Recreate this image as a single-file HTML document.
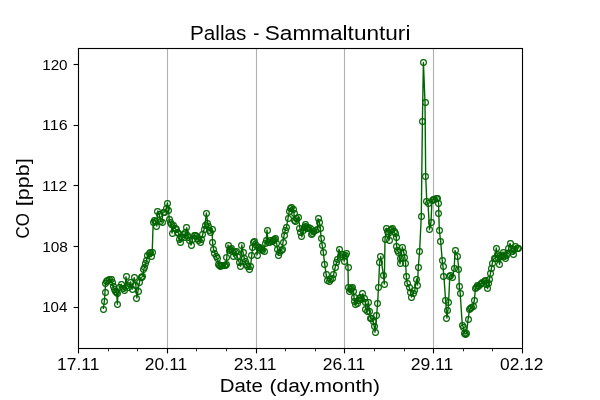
<!DOCTYPE html>
<html><head><meta charset="utf-8"><title>Pallas - Sammaltunturi</title><style>
html,body{margin:0;padding:0;background:#fff;width:600px;height:400px;overflow:hidden}
svg{display:block;will-change:transform}
text{font-family:"Liberation Sans",sans-serif;fill:#000}
</style></head><body>
<svg width="600" height="400" viewBox="0 0 600 400">
<rect width="600" height="400" fill="#fff"/>
<g stroke="#b0b0b0" stroke-width="1.11"><line x1="167.5" y1="48.5" x2="167.5" y2="348.5"/><line x1="256.5" y1="48.5" x2="256.5" y2="348.5"/><line x1="344.5" y1="48.5" x2="344.5" y2="348.5"/><line x1="433.5" y1="48.5" x2="433.5" y2="348.5"/></g>
<polyline fill="none" stroke="#006400" stroke-width="1.39" stroke-linejoin="round" points="103.2,309 104.4,301.2 105,292 105.6,283.3 106.65,281.9 107.7,280.5 109.5,279.3 111,279 112.15,282.9 113.3,286.8 114.7,289.8 115.65,291.15 116.6,292.5 117.4,304.3 117.9,293.5 119.4,287.6 121.2,284.2 123,288.5 124.8,290.8 126,276.8 127.1,285.5 128.9,287.3 130.6,282 132.4,289 134.2,277.7 135.9,285.5 136.9,298 138,291 139.5,282 141,277.5 141.95,277 142.9,276.5 143.8,269 144.8,267 145.6,263.5 146.5,260.5 147.6,255 149,253.5 150.3,252.3 151.5,256.5 152.2,252 153.2,222 154.3,220 155.5,221.5 156.8,226 157.8,211 159.3,214.5 160.5,221.5 162,222 163,212 164.6,212 166.2,208.5 167.4,203 168.6,210 169.2,219.5 170.2,222.5 171.3,224 172,233 173.5,225 175,228.5 176.2,229.5 177.5,232 178.5,233 179.3,239 180.2,242 181.5,237 183,234.5 184.5,237.5 185.6,232.6 186.7,227.7 187.8,235 188.75,237.75 189.7,240.5 191,245 192.7,239 194.5,235 195.5,235.75 196.5,236.5 197.5,238.25 198.5,240 200,242 201.5,239 202.8,234 204,229.5 205,225 206.4,213 207.7,223 208.6,226.5 209.8,230 210.8,232 212,229 212.6,242.5 213.6,249.4 214.9,253.1 216.1,256.2 217.4,258.8 218.6,264.4 219.55,265.3 220.5,266.2 221.45,265.9 222.4,265.6 224.2,265.6 225.15,265 226.1,264.4 226.8,257.5 228,245 229.2,250 230.15,249.4 231.1,248.8 232.4,251.9 233.6,256.2 235,252 236.1,251.2 237.4,256.9 239.2,262.5 240.5,266.2 241.8,245 243,252.5 244.2,258.1 245.2,261 246,264 247.4,266.9 249.2,269.4 250.5,266.5 251.8,255 252.6,247 253.3,242 254.9,241.2 256.5,245 257,255 258,247.5 259.25,247.8 260.5,248.1 261.45,249.35 262.4,250.6 264.2,251.2 265.2,243 266.2,240.5 267,230 268,242 269.3,242.5 270.8,240.5 272.2,241.5 273.5,240.5 274.5,239.25 275.5,238 276.6,243 277.5,249 278.5,255 279.8,252 281,250.5 282,249 283,242.25 284,235.5 285.3,230 286.4,227.4 288,218.5 289.3,211 290.5,208 291.9,207.4 293.2,209.5 294,213.5 294.6,220 295.8,221.8 296.9,218.5 298.6,217.4 299.9,228.5 300.9,232.65 301.9,236.8 303.1,230.5 304.05,227.7 305,224.9 305.95,226.75 306.9,228.6 307.85,228 308.8,227.4 310.6,228 311.9,234.2 312.85,233 313.8,231.8 315.6,230.5 317.2,229.2 318.1,218.6 319.4,222.5 320.4,228 321,238 322.3,245.8 323.3,252.2 324.7,264.2 326.2,274.8 327.6,280 329,281.5 330.5,279 332,278 333.6,274.8 335.2,267.2 336.6,262.8 337.6,259 339,249.2 340.5,256 341.8,254.8 342.9,254.5 344.2,261.2 345.3,255 346.5,253.8 348,267.2 348.3,287.5 349.2,291.9 350.3,289 351.5,288 352.7,287.5 353.5,291 354,297 354.8,301.5 355.8,304.5 357,303 358.2,300 359.3,298 360.5,297 361.5,299.5 362.8,293.6 364,298.5 365.2,302 365.8,309.5 367,311 368.5,302 369.6,311.5 370.6,318.5 371.8,318 373,321 374.1,326 375,332.2 376.6,315.5 377.6,303.3 378.5,287.5 379.6,262.8 380.7,256.5 383.4,275 384.3,284 385,239.4 386.3,228.1 387.5,231 388.3,233 389.2,240 390.4,230 391.6,229 392.6,228.8 394,231.9 395.4,233.8 396.3,237.5 396.6,246 397.5,250.6 398.8,252.5 400,263.9 400.8,258.8 402.3,247 403.8,252.5 404.8,257.5 405.6,263 406.3,276 407.2,283.5 409.2,287.3 410.5,292 411.5,297 413,293.3 414.8,290 416.6,279 417.5,285 418.3,267 419.6,251.3 421.3,216.2 422.4,121.8 423.4,62.4 425,102.4 425.7,176.4 426.8,201.9 428,203.5 429.5,229.5 431,222 432,200 433.1,199.7 434.2,199.4 436,198.5 437,198.1 438.6,203.1 438.8,213.1 439.3,230 440.7,241.5 442.2,260 443,266.8 443.9,276.4 445.6,300.2 446.9,318 447.9,310.7 448.6,302.3 449.8,276 450.9,275.1 452.6,277.8 454.2,268.2 455,250.5 457.5,256 458.8,269.8 459.3,286.8 460.2,293.2 462.3,325 463.3,327 464.6,333.5 465.6,334 466.5,333.5 468.1,319.4 469.6,309.5 470.6,308 471.9,307.5 473,306.5 474.4,300 475.4,288.5 476.35,287.1 477.3,285.7 478.5,286 480.1,284.7 481.5,283.5 482.9,282.8 484.3,281 485.7,280 486.65,284.25 487.6,288.5 488.55,283.8 489.5,279.1 490.4,273.5 491.3,268.8 492.3,263.1 494.1,258.5 495,258 496.3,248 497.2,254.7 498.5,258 499.6,264.3 500.3,255 501.6,256.6 503,252 504.3,256 505.5,258.5 506.5,255 507.5,253 508.8,248 510,243.5 511,248 512.3,251 513.5,254 514.5,249 515.3,246 517,248 518.5,248.5"/>
<g fill="none" stroke="#006400" stroke-width="1.15"><circle cx="103.5" cy="309.5" r="2.9"/><circle cx="104.5" cy="301.5" r="2.9"/><circle cx="105.5" cy="292.5" r="2.9"/><circle cx="105.5" cy="283.5" r="2.9"/><circle cx="106.5" cy="281.5" r="2.9"/><circle cx="107.5" cy="280.5" r="2.9"/><circle cx="109.5" cy="279.5" r="2.9"/><circle cx="111.5" cy="279.5" r="2.9"/><circle cx="112.5" cy="282.5" r="2.9"/><circle cx="113.5" cy="286.5" r="2.9"/><circle cx="114.5" cy="289.5" r="2.9"/><circle cx="115.5" cy="291.5" r="2.9"/><circle cx="116.5" cy="292.5" r="2.9"/><circle cx="117.5" cy="304.5" r="2.9"/><circle cx="117.5" cy="293.5" r="2.9"/><circle cx="119.5" cy="287.5" r="2.9"/><circle cx="121.5" cy="284.5" r="2.9"/><circle cx="123.5" cy="288.5" r="2.9"/><circle cx="124.5" cy="290.5" r="2.9"/><circle cx="126.5" cy="276.5" r="2.9"/><circle cx="127.5" cy="285.5" r="2.9"/><circle cx="128.5" cy="287.5" r="2.9"/><circle cx="130.5" cy="282.5" r="2.9"/><circle cx="132.5" cy="289.5" r="2.9"/><circle cx="134.5" cy="277.5" r="2.9"/><circle cx="135.5" cy="285.5" r="2.9"/><circle cx="136.5" cy="298.5" r="2.9"/><circle cx="138.5" cy="291.5" r="2.9"/><circle cx="139.5" cy="282.5" r="2.9"/><circle cx="141.5" cy="277.5" r="2.9"/><circle cx="141.5" cy="277.5" r="2.9"/><circle cx="142.5" cy="276.5" r="2.9"/><circle cx="143.5" cy="269.5" r="2.9"/><circle cx="144.5" cy="267.5" r="2.9"/><circle cx="145.5" cy="263.5" r="2.9"/><circle cx="146.5" cy="260.5" r="2.9"/><circle cx="147.5" cy="255.5" r="2.9"/><circle cx="149.5" cy="253.5" r="2.9"/><circle cx="150.5" cy="252.5" r="2.9"/><circle cx="151.5" cy="256.5" r="2.9"/><circle cx="152.5" cy="252.5" r="2.9"/><circle cx="153.5" cy="222.5" r="2.9"/><circle cx="154.5" cy="220.5" r="2.9"/><circle cx="155.5" cy="221.5" r="2.9"/><circle cx="156.5" cy="226.5" r="2.9"/><circle cx="157.5" cy="211.5" r="2.9"/><circle cx="159.5" cy="214.5" r="2.9"/><circle cx="160.5" cy="221.5" r="2.9"/><circle cx="162.5" cy="222.5" r="2.9"/><circle cx="163.5" cy="212.5" r="2.9"/><circle cx="164.5" cy="212.5" r="2.9"/><circle cx="166.5" cy="208.5" r="2.9"/><circle cx="167.5" cy="203.5" r="2.9"/><circle cx="168.5" cy="210.5" r="2.9"/><circle cx="169.5" cy="219.5" r="2.9"/><circle cx="170.5" cy="222.5" r="2.9"/><circle cx="171.5" cy="224.5" r="2.9"/><circle cx="172.5" cy="233.5" r="2.9"/><circle cx="173.5" cy="225.5" r="2.9"/><circle cx="175.5" cy="228.5" r="2.9"/><circle cx="176.5" cy="229.5" r="2.9"/><circle cx="177.5" cy="232.5" r="2.9"/><circle cx="178.5" cy="233.5" r="2.9"/><circle cx="179.5" cy="239.5" r="2.9"/><circle cx="180.5" cy="242.5" r="2.9"/><circle cx="181.5" cy="237.5" r="2.9"/><circle cx="183.5" cy="234.5" r="2.9"/><circle cx="184.5" cy="237.5" r="2.9"/><circle cx="185.5" cy="232.5" r="2.9"/><circle cx="186.5" cy="227.5" r="2.9"/><circle cx="187.5" cy="235.5" r="2.9"/><circle cx="188.5" cy="237.5" r="2.9"/><circle cx="189.5" cy="240.5" r="2.9"/><circle cx="191.5" cy="245.5" r="2.9"/><circle cx="192.5" cy="239.5" r="2.9"/><circle cx="194.5" cy="235.5" r="2.9"/><circle cx="195.5" cy="235.5" r="2.9"/><circle cx="196.5" cy="236.5" r="2.9"/><circle cx="197.5" cy="238.5" r="2.9"/><circle cx="198.5" cy="240.5" r="2.9"/><circle cx="200.5" cy="242.5" r="2.9"/><circle cx="201.5" cy="239.5" r="2.9"/><circle cx="202.5" cy="234.5" r="2.9"/><circle cx="204.5" cy="229.5" r="2.9"/><circle cx="205.5" cy="225.5" r="2.9"/><circle cx="206.5" cy="213.5" r="2.9"/><circle cx="207.5" cy="223.5" r="2.9"/><circle cx="208.5" cy="226.5" r="2.9"/><circle cx="209.5" cy="230.5" r="2.9"/><circle cx="210.5" cy="232.5" r="2.9"/><circle cx="212.5" cy="229.5" r="2.9"/><circle cx="212.5" cy="242.5" r="2.9"/><circle cx="213.5" cy="249.5" r="2.9"/><circle cx="214.5" cy="253.5" r="2.9"/><circle cx="216.5" cy="256.5" r="2.9"/><circle cx="217.5" cy="258.5" r="2.9"/><circle cx="218.5" cy="264.5" r="2.9"/><circle cx="219.5" cy="265.5" r="2.9"/><circle cx="220.5" cy="266.5" r="2.9"/><circle cx="221.5" cy="265.5" r="2.9"/><circle cx="222.5" cy="265.5" r="2.9"/><circle cx="224.5" cy="265.5" r="2.9"/><circle cx="225.5" cy="265.5" r="2.9"/><circle cx="226.5" cy="264.5" r="2.9"/><circle cx="226.5" cy="257.5" r="2.9"/><circle cx="228.5" cy="245.5" r="2.9"/><circle cx="229.5" cy="250.5" r="2.9"/><circle cx="230.5" cy="249.5" r="2.9"/><circle cx="231.5" cy="248.5" r="2.9"/><circle cx="232.5" cy="251.5" r="2.9"/><circle cx="233.5" cy="256.5" r="2.9"/><circle cx="235.5" cy="252.5" r="2.9"/><circle cx="236.5" cy="251.5" r="2.9"/><circle cx="237.5" cy="256.5" r="2.9"/><circle cx="239.5" cy="262.5" r="2.9"/><circle cx="240.5" cy="266.5" r="2.9"/><circle cx="241.5" cy="245.5" r="2.9"/><circle cx="243.5" cy="252.5" r="2.9"/><circle cx="244.5" cy="258.5" r="2.9"/><circle cx="245.5" cy="261.5" r="2.9"/><circle cx="246.5" cy="264.5" r="2.9"/><circle cx="247.5" cy="266.5" r="2.9"/><circle cx="249.5" cy="269.5" r="2.9"/><circle cx="250.5" cy="266.5" r="2.9"/><circle cx="251.5" cy="255.5" r="2.9"/><circle cx="252.5" cy="247.5" r="2.9"/><circle cx="253.5" cy="242.5" r="2.9"/><circle cx="254.5" cy="241.5" r="2.9"/><circle cx="256.5" cy="245.5" r="2.9"/><circle cx="257.5" cy="255.5" r="2.9"/><circle cx="258.5" cy="247.5" r="2.9"/><circle cx="259.5" cy="247.5" r="2.9"/><circle cx="260.5" cy="248.5" r="2.9"/><circle cx="261.5" cy="249.5" r="2.9"/><circle cx="262.5" cy="250.5" r="2.9"/><circle cx="264.5" cy="251.5" r="2.9"/><circle cx="265.5" cy="243.5" r="2.9"/><circle cx="266.5" cy="240.5" r="2.9"/><circle cx="267.5" cy="230.5" r="2.9"/><circle cx="268.5" cy="242.5" r="2.9"/><circle cx="269.5" cy="242.5" r="2.9"/><circle cx="270.5" cy="240.5" r="2.9"/><circle cx="272.5" cy="241.5" r="2.9"/><circle cx="273.5" cy="240.5" r="2.9"/><circle cx="274.5" cy="239.5" r="2.9"/><circle cx="275.5" cy="238.5" r="2.9"/><circle cx="276.5" cy="243.5" r="2.9"/><circle cx="277.5" cy="249.5" r="2.9"/><circle cx="278.5" cy="255.5" r="2.9"/><circle cx="279.5" cy="252.5" r="2.9"/><circle cx="281.5" cy="250.5" r="2.9"/><circle cx="282.5" cy="249.5" r="2.9"/><circle cx="283.5" cy="242.5" r="2.9"/><circle cx="284.5" cy="235.5" r="2.9"/><circle cx="285.5" cy="230.5" r="2.9"/><circle cx="286.5" cy="227.5" r="2.9"/><circle cx="288.5" cy="218.5" r="2.9"/><circle cx="289.5" cy="211.5" r="2.9"/><circle cx="290.5" cy="208.5" r="2.9"/><circle cx="291.5" cy="207.5" r="2.9"/><circle cx="293.5" cy="209.5" r="2.9"/><circle cx="294.5" cy="213.5" r="2.9"/><circle cx="294.5" cy="220.5" r="2.9"/><circle cx="295.5" cy="221.5" r="2.9"/><circle cx="296.5" cy="218.5" r="2.9"/><circle cx="298.5" cy="217.5" r="2.9"/><circle cx="299.5" cy="228.5" r="2.9"/><circle cx="300.5" cy="232.5" r="2.9"/><circle cx="301.5" cy="236.5" r="2.9"/><circle cx="303.5" cy="230.5" r="2.9"/><circle cx="304.5" cy="227.5" r="2.9"/><circle cx="305.5" cy="224.5" r="2.9"/><circle cx="305.5" cy="226.5" r="2.9"/><circle cx="306.5" cy="228.5" r="2.9"/><circle cx="307.5" cy="228.5" r="2.9"/><circle cx="308.5" cy="227.5" r="2.9"/><circle cx="310.5" cy="228.5" r="2.9"/><circle cx="311.5" cy="234.5" r="2.9"/><circle cx="312.5" cy="233.5" r="2.9"/><circle cx="313.5" cy="231.5" r="2.9"/><circle cx="315.5" cy="230.5" r="2.9"/><circle cx="317.5" cy="229.5" r="2.9"/><circle cx="318.5" cy="218.5" r="2.9"/><circle cx="319.5" cy="222.5" r="2.9"/><circle cx="320.5" cy="228.5" r="2.9"/><circle cx="321.5" cy="238.5" r="2.9"/><circle cx="322.5" cy="245.5" r="2.9"/><circle cx="323.5" cy="252.5" r="2.9"/><circle cx="324.5" cy="264.5" r="2.9"/><circle cx="326.5" cy="274.5" r="2.9"/><circle cx="327.5" cy="280.5" r="2.9"/><circle cx="329.5" cy="281.5" r="2.9"/><circle cx="330.5" cy="279.5" r="2.9"/><circle cx="332.5" cy="278.5" r="2.9"/><circle cx="333.5" cy="274.5" r="2.9"/><circle cx="335.5" cy="267.5" r="2.9"/><circle cx="336.5" cy="262.5" r="2.9"/><circle cx="337.5" cy="259.5" r="2.9"/><circle cx="339.5" cy="249.5" r="2.9"/><circle cx="340.5" cy="256.5" r="2.9"/><circle cx="341.5" cy="254.5" r="2.9"/><circle cx="342.5" cy="254.5" r="2.9"/><circle cx="344.5" cy="261.5" r="2.9"/><circle cx="345.5" cy="255.5" r="2.9"/><circle cx="346.5" cy="253.5" r="2.9"/><circle cx="348.5" cy="267.5" r="2.9"/><circle cx="348.5" cy="287.5" r="2.9"/><circle cx="349.5" cy="291.5" r="2.9"/><circle cx="350.5" cy="289.5" r="2.9"/><circle cx="351.5" cy="288.5" r="2.9"/><circle cx="352.5" cy="287.5" r="2.9"/><circle cx="353.5" cy="291.5" r="2.9"/><circle cx="354.5" cy="297.5" r="2.9"/><circle cx="354.5" cy="301.5" r="2.9"/><circle cx="355.5" cy="304.5" r="2.9"/><circle cx="357.5" cy="303.5" r="2.9"/><circle cx="358.5" cy="300.5" r="2.9"/><circle cx="359.5" cy="298.5" r="2.9"/><circle cx="360.5" cy="297.5" r="2.9"/><circle cx="361.5" cy="299.5" r="2.9"/><circle cx="362.5" cy="293.5" r="2.9"/><circle cx="364.5" cy="298.5" r="2.9"/><circle cx="365.5" cy="302.5" r="2.9"/><circle cx="365.5" cy="309.5" r="2.9"/><circle cx="367.5" cy="311.5" r="2.9"/><circle cx="368.5" cy="302.5" r="2.9"/><circle cx="369.5" cy="311.5" r="2.9"/><circle cx="370.5" cy="318.5" r="2.9"/><circle cx="371.5" cy="318.5" r="2.9"/><circle cx="373.5" cy="321.5" r="2.9"/><circle cx="374.5" cy="326.5" r="2.9"/><circle cx="375.5" cy="332.5" r="2.9"/><circle cx="376.5" cy="315.5" r="2.9"/><circle cx="377.5" cy="303.5" r="2.9"/><circle cx="378.5" cy="287.5" r="2.9"/><circle cx="379.5" cy="262.5" r="2.9"/><circle cx="380.5" cy="256.5" r="2.9"/><circle cx="383.5" cy="275.5" r="2.9"/><circle cx="384.5" cy="284.5" r="2.9"/><circle cx="385.5" cy="239.5" r="2.9"/><circle cx="386.5" cy="228.5" r="2.9"/><circle cx="387.5" cy="231.5" r="2.9"/><circle cx="388.5" cy="233.5" r="2.9"/><circle cx="389.5" cy="240.5" r="2.9"/><circle cx="390.5" cy="230.5" r="2.9"/><circle cx="391.5" cy="229.5" r="2.9"/><circle cx="392.5" cy="228.5" r="2.9"/><circle cx="394.5" cy="231.5" r="2.9"/><circle cx="395.5" cy="233.5" r="2.9"/><circle cx="396.5" cy="237.5" r="2.9"/><circle cx="396.5" cy="246.5" r="2.9"/><circle cx="397.5" cy="250.5" r="2.9"/><circle cx="398.5" cy="252.5" r="2.9"/><circle cx="400.5" cy="263.5" r="2.9"/><circle cx="400.5" cy="258.5" r="2.9"/><circle cx="402.5" cy="247.5" r="2.9"/><circle cx="403.5" cy="252.5" r="2.9"/><circle cx="404.5" cy="257.5" r="2.9"/><circle cx="405.5" cy="263.5" r="2.9"/><circle cx="406.5" cy="276.5" r="2.9"/><circle cx="407.5" cy="283.5" r="2.9"/><circle cx="409.5" cy="287.5" r="2.9"/><circle cx="410.5" cy="292.5" r="2.9"/><circle cx="411.5" cy="297.5" r="2.9"/><circle cx="413.5" cy="293.5" r="2.9"/><circle cx="414.5" cy="290.5" r="2.9"/><circle cx="416.5" cy="279.5" r="2.9"/><circle cx="417.5" cy="285.5" r="2.9"/><circle cx="418.5" cy="267.5" r="2.9"/><circle cx="419.5" cy="251.5" r="2.9"/><circle cx="421.5" cy="216.5" r="2.9"/><circle cx="422.5" cy="121.5" r="2.9"/><circle cx="423.5" cy="62.5" r="2.9"/><circle cx="425.5" cy="102.5" r="2.9"/><circle cx="425.5" cy="176.5" r="2.9"/><circle cx="426.5" cy="201.5" r="2.9"/><circle cx="428.5" cy="203.5" r="2.9"/><circle cx="429.5" cy="229.5" r="2.9"/><circle cx="431.5" cy="222.5" r="2.9"/><circle cx="432.5" cy="200.5" r="2.9"/><circle cx="433.5" cy="199.5" r="2.9"/><circle cx="434.5" cy="199.5" r="2.9"/><circle cx="436.5" cy="198.5" r="2.9"/><circle cx="437.5" cy="198.5" r="2.9"/><circle cx="438.5" cy="203.5" r="2.9"/><circle cx="438.5" cy="213.5" r="2.9"/><circle cx="439.5" cy="230.5" r="2.9"/><circle cx="440.5" cy="241.5" r="2.9"/><circle cx="442.5" cy="260.5" r="2.9"/><circle cx="443.5" cy="266.5" r="2.9"/><circle cx="443.5" cy="276.5" r="2.9"/><circle cx="445.5" cy="300.5" r="2.9"/><circle cx="446.5" cy="318.5" r="2.9"/><circle cx="447.5" cy="310.5" r="2.9"/><circle cx="448.5" cy="302.5" r="2.9"/><circle cx="449.5" cy="276.5" r="2.9"/><circle cx="450.5" cy="275.5" r="2.9"/><circle cx="452.5" cy="277.5" r="2.9"/><circle cx="454.5" cy="268.5" r="2.9"/><circle cx="455.5" cy="250.5" r="2.9"/><circle cx="457.5" cy="256.5" r="2.9"/><circle cx="458.5" cy="269.5" r="2.9"/><circle cx="459.5" cy="286.5" r="2.9"/><circle cx="460.5" cy="293.5" r="2.9"/><circle cx="462.5" cy="325.5" r="2.9"/><circle cx="463.5" cy="327.5" r="2.9"/><circle cx="464.5" cy="333.5" r="2.9"/><circle cx="465.5" cy="334.5" r="2.9"/><circle cx="466.5" cy="333.5" r="2.9"/><circle cx="468.5" cy="319.5" r="2.9"/><circle cx="469.5" cy="309.5" r="2.9"/><circle cx="470.5" cy="308.5" r="2.9"/><circle cx="471.5" cy="307.5" r="2.9"/><circle cx="473.5" cy="306.5" r="2.9"/><circle cx="474.5" cy="300.5" r="2.9"/><circle cx="475.5" cy="288.5" r="2.9"/><circle cx="476.5" cy="287.5" r="2.9"/><circle cx="477.5" cy="285.5" r="2.9"/><circle cx="478.5" cy="286.5" r="2.9"/><circle cx="480.5" cy="284.5" r="2.9"/><circle cx="481.5" cy="283.5" r="2.9"/><circle cx="482.5" cy="282.5" r="2.9"/><circle cx="484.5" cy="281.5" r="2.9"/><circle cx="485.5" cy="280.5" r="2.9"/><circle cx="486.5" cy="284.5" r="2.9"/><circle cx="487.5" cy="288.5" r="2.9"/><circle cx="488.5" cy="283.5" r="2.9"/><circle cx="489.5" cy="279.5" r="2.9"/><circle cx="490.5" cy="273.5" r="2.9"/><circle cx="491.5" cy="268.5" r="2.9"/><circle cx="492.5" cy="263.5" r="2.9"/><circle cx="494.5" cy="258.5" r="2.9"/><circle cx="495.5" cy="258.5" r="2.9"/><circle cx="496.5" cy="248.5" r="2.9"/><circle cx="497.5" cy="254.5" r="2.9"/><circle cx="498.5" cy="258.5" r="2.9"/><circle cx="499.5" cy="264.5" r="2.9"/><circle cx="500.5" cy="255.5" r="2.9"/><circle cx="501.5" cy="256.5" r="2.9"/><circle cx="503.5" cy="252.5" r="2.9"/><circle cx="504.5" cy="256.5" r="2.9"/><circle cx="505.5" cy="258.5" r="2.9"/><circle cx="506.5" cy="255.5" r="2.9"/><circle cx="507.5" cy="253.5" r="2.9"/><circle cx="508.5" cy="248.5" r="2.9"/><circle cx="510.5" cy="243.5" r="2.9"/><circle cx="511.5" cy="248.5" r="2.9"/><circle cx="512.5" cy="251.5" r="2.9"/><circle cx="513.5" cy="254.5" r="2.9"/><circle cx="514.5" cy="249.5" r="2.9"/><circle cx="515.5" cy="246.5" r="2.9"/><circle cx="517.5" cy="248.5" r="2.9"/><circle cx="518.5" cy="248.5" r="2.9"/></g>
<rect x="78.5" y="48.5" width="444" height="300" fill="none" stroke="#000" stroke-width="1.11"/>
<g stroke="#000" stroke-width="1.11"><line x1="78.5" y1="348.5" x2="78.5" y2="353.4"/><line x1="167.5" y1="348.5" x2="167.5" y2="353.4"/><line x1="256.5" y1="348.5" x2="256.5" y2="353.4"/><line x1="344.5" y1="348.5" x2="344.5" y2="353.4"/><line x1="433.5" y1="348.5" x2="433.5" y2="353.4"/><line x1="522.5" y1="348.5" x2="522.5" y2="353.4"/><line x1="73.6" y1="64.5" x2="78.5" y2="64.5"/><line x1="73.6" y1="125.5" x2="78.5" y2="125.5"/><line x1="73.6" y1="185.5" x2="78.5" y2="185.5"/><line x1="73.6" y1="246.5" x2="78.5" y2="246.5"/><line x1="73.6" y1="307.5" x2="78.5" y2="307.5"/></g>
<g stroke="#000" stroke-width="0.83"><line x1="108.5" y1="348.5" x2="108.5" y2="351.3"/><line x1="137.5" y1="348.5" x2="137.5" y2="351.3"/><line x1="196.5" y1="348.5" x2="196.5" y2="351.3"/><line x1="226.5" y1="348.5" x2="226.5" y2="351.3"/><line x1="285.5" y1="348.5" x2="285.5" y2="351.3"/><line x1="315.5" y1="348.5" x2="315.5" y2="351.3"/><line x1="374.5" y1="348.5" x2="374.5" y2="351.3"/><line x1="404.5" y1="348.5" x2="404.5" y2="351.3"/><line x1="463.5" y1="348.5" x2="463.5" y2="351.3"/><line x1="492.5" y1="348.5" x2="492.5" y2="351.3"/></g>
<g><text x="189.99" y="40" font-size="19.7" textLength="56.36" lengthAdjust="spacingAndGlyphs">Pallas</text><text x="253.22" y="40" font-size="19.7" textLength="6.16" lengthAdjust="spacingAndGlyphs">-</text><text x="264.75" y="40" font-size="19.7" textLength="145.66" lengthAdjust="spacingAndGlyphs">Sammaltunturi</text><text x="219.69" y="392" font-size="17.6" textLength="43.11" lengthAdjust="spacingAndGlyphs">Date</text><text x="269.51" y="392" font-size="17.6" textLength="110.4" lengthAdjust="spacingAndGlyphs">(day.month)</text><g transform="translate(28.9,0) rotate(-90)"><text x="-238.5" y="0" font-size="18" textLength="25.3" lengthAdjust="spacingAndGlyphs">CO</text><text x="-206.26" y="0" font-size="18" textLength="48.05" lengthAdjust="spacingAndGlyphs">[ppb]</text></g><text x="57.12" y="370" font-size="16.9" textLength="42.21" lengthAdjust="spacingAndGlyphs">17.11</text><text x="144.87" y="370" font-size="16.9" textLength="42.46" lengthAdjust="spacingAndGlyphs">20.11</text><text x="233.77" y="370" font-size="16.9" textLength="42.77" lengthAdjust="spacingAndGlyphs">23.11</text><text x="322.77" y="370" font-size="16.9" textLength="42.46" lengthAdjust="spacingAndGlyphs">26.11</text><text x="410.67" y="370" font-size="16.9" textLength="42.66" lengthAdjust="spacingAndGlyphs">29.11</text><text x="500" y="370" font-size="16.9" textLength="43.41" lengthAdjust="spacingAndGlyphs">02.12</text><text x="42.16" y="70" font-size="15" textLength="25.44" lengthAdjust="spacingAndGlyphs">120</text><text x="42.1" y="130" font-size="15" textLength="25.58" lengthAdjust="spacingAndGlyphs">116</text><text x="42.12" y="191" font-size="15" textLength="25.2" lengthAdjust="spacingAndGlyphs">112</text><text x="42.15" y="252" font-size="15" textLength="25.73" lengthAdjust="spacingAndGlyphs">108</text><text x="42.18" y="312" font-size="15" textLength="25.14" lengthAdjust="spacingAndGlyphs">104</text></g>
</svg>
</body></html>
